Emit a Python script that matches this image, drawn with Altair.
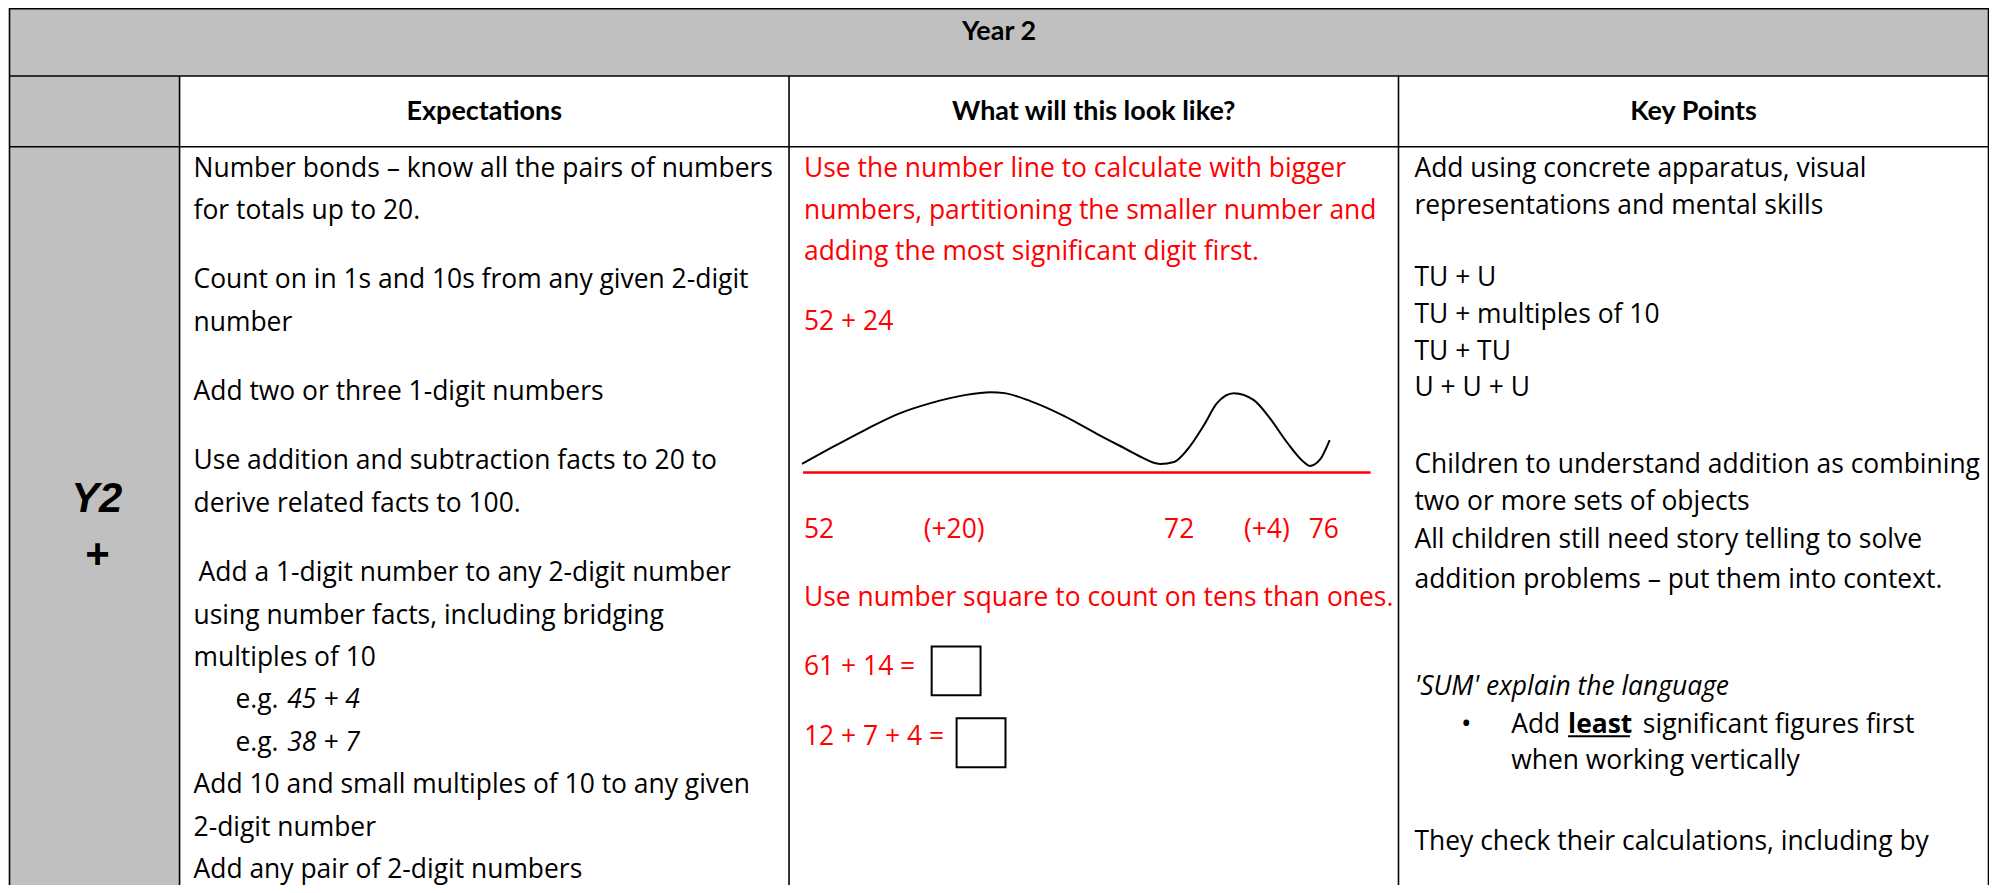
import altair as alt
import pandas as pd

# ------------------------------------------------------------------ content
TITLE = "Year 2"
COLUMN_HEADERS = ["Expectations", "What will this look like?", "Key Points"]
ROW_LABEL = ["Y2", "+"]

EXPECTATIONS = [
    "Number bonds \u2013 know all the pairs of numbers",
    "for totals up to 20.",
    "Count on in 1s and 10s from any given 2-digit",
    "number",
    "Add two or three 1-digit numbers",
    "Use addition and subtraction facts to 20 to",
    "derive related facts to 100.",
    "Add a 1-digit number to any 2-digit number",
    "using number facts, including bridging",
    "multiples of 10",
    "Add 10 and small multiples of 10 to any given",
    "2-digit number",
    "Add any pair of 2-digit numbers",
]
EXAMPLE_PREFIX = ["e.g.", "e.g."]
EXAMPLES = ["45 + 4", "38 + 7"]

LOOK_LIKE = [
    "Use the number line to calculate with bigger",
    "numbers, partitioning the smaller number and",
    "adding the most significant digit first.",
    "52 + 24",
    "Use number square to count on tens than ones.",
    "61 + 14 =",
    "12 + 7 + 4 =",
]
NUMBER_LINE_LABELS = ["52", "(+20)", "72", "(+4)", "76"]

# hand-drawn jump curve above the number line
CURVE_X = [804, 833, 867, 900, 933, 967, 993, 1007, 1033, 1067, 1100, 1123, 1140,
           1163, 1177, 1190, 1207, 1220, 1237, 1257, 1273, 1290, 1307, 1313, 1323, 1333]
CURVE_Y = [464, 448, 430, 414, 403, 395, 392, 393, 401, 416, 434, 446, 455,
           464, 462, 450, 425, 403, 393, 400, 418, 442, 462, 466, 460, 440]

KEY_POINTS = [
    "Add using concrete apparatus, visual",
    "representations and mental skills",
    "TU + U",
    "TU + multiples of 10",
    "TU + TU",
    "U + U + U",
    "Children to understand addition as combining",
    "two or more sets of objects",
    "All children still need story telling to solve",
    "addition problems \u2013 put them into context.",
    "when working vertically",
    "They check their calculations, including by",
]
KEY_ITALIC = "'SUM' explain the language"
BULLET_PARTS = ["Add", "least", "significant figures first"]

# ------------------------------------------------------------------ layout (page units)
PAGE_W, PAGE_H = 1986, 877          # drawing area, starts at page (8, 8)
X0, Y0 = 8, 8
COL_X = [9.5, 180, 791, 1402, 1993.5]
ROW_Y = [7.5, 75, 146, 893]
GRAY = "#c0c0c0"
RED = "#ff0000"
BODY_FONT = "Open Sans"
BODY_SIZE = 26.5
HEAD_SIZE = 27

exp_y, y, step, gap = [], 168.0, 42.5, 27.0
para_start = {2, 4, 5, 7}
for i in range(15):
    if i in para_start:
        y += gap
    exp_y.append(y)
    y += step
# slots 10, 11 hold the e.g. lines
exp_text_slots = [0, 1, 2, 3, 4, 5, 6, 7, 8, 9, 12, 13, 14]
exp_x = [194] * 13
exp_x[7] = 199
eg_slots = [10, 11]

look_y = [168, 210, 252, 322, 598, 668, 738]
numline_x = [806, 926, 1167, 1247, 1312]
numline_y = 530
box_x = [(934, 983), (959, 1008)]
box_y = [(647, 696), (719, 768)]

key_y = [168, 205, 278, 315, 352, 388, 465, 502, 540, 580, 762, 843]
key_x = [1418] * 12
key_x[10] = 1515
bullet_y = 726
bullet_part_x = [1515, 1572, 1647]

XS = alt.Scale(domain=[X0, X0 + PAGE_W], nice=False, zero=False)
YS = alt.Scale(domain=[Y0, Y0 + PAGE_H], nice=False, zero=False, reverse=True)


def X(f="x"):
    return alt.X(f"{f}:Q", scale=XS, axis=None)


def Y(f="y"):
    return alt.Y(f"{f}:Q", scale=YS, axis=None)


# ------------------------------------------------------------------ shapes
gray_cells = pd.DataFrame([
    dict(x=COL_X[0], x2=COL_X[1], y=0, y2=ROW_Y[0]),
    dict(x=COL_X[0], x2=COL_X[4], y=ROW_Y[0], y2=ROW_Y[1]),
    dict(x=COL_X[0], x2=COL_X[1], y=ROW_Y[1], y2=ROW_Y[3]),
])
gray = alt.Chart(gray_cells).mark_rect(color=GRAY).encode(
    x=X(), x2="x2:Q", y=Y(), y2="y2:Q")

rules = []
for yy in ROW_Y[:3]:
    rules.append(dict(x=COL_X[0], x2=COL_X[4], y=yy, y2=yy))
for xx in (COL_X[0], COL_X[4]):
    rules.append(dict(x=xx, x2=xx, y=0, y2=ROW_Y[3]))
for xx in COL_X[1:4]:
    rules.append(dict(x=xx, x2=xx, y=0, y2=ROW_Y[0]))
    rules.append(dict(x=xx, x2=xx, y=ROW_Y[1], y2=ROW_Y[3]))
grid = alt.Chart(pd.DataFrame(rules)).mark_rule(color="black", strokeWidth=1.6).encode(
    x=X(), x2="x2:Q", y=Y(), y2="y2:Q")

boxes = pd.DataFrame([dict(x=a, x2=b, y=c, y2=d) for (a, b), (c, d) in zip(box_x, box_y)])
answer_boxes = alt.Chart(boxes).mark_rect(fill="white", stroke="black", strokeWidth=2).encode(
    x=X(), x2="x2:Q", y=Y(), y2="y2:Q")

red_line = alt.Chart(pd.DataFrame([dict(x=805, x2=1374, y=472.5, y2=472.5)])).mark_rule(
    color=RED, strokeWidth=2.6).encode(x=X(), x2="x2:Q", y=Y(), y2="y2:Q")

curve_df = pd.DataFrame({"x": CURVE_X, "y": CURVE_Y, "o": range(len(CURVE_X))})
curve = alt.Chart(curve_df).mark_line(color="black", strokeWidth=2,
                                      interpolate="monotone").encode(
    x=X(), y=Y(), order="o:Q")

underline = alt.Chart(pd.DataFrame([dict(x=1572, x2=1634, y=737, y2=737)])).mark_rule(
    color="black", strokeWidth=2).encode(x=X(), x2="x2:Q", y=Y(), y2="y2:Q")


# ------------------------------------------------------------------ text
def text_layer(rows, **mark):
    df = pd.DataFrame(rows, columns=["text", "x", "y"])
    base = dict(baseline="middle", align="left", font=BODY_FONT, fontSize=BODY_SIZE,
                color="black")
    base.update(mark)
    return alt.Chart(df).mark_text(**base).encode(x=X(), y=Y(), text="text:N")


hdr_rows = [(TITLE, (COL_X[0] + COL_X[4]) / 2, 31)]
for i, h in enumerate(COLUMN_HEADERS):
    hdr_rows.append((h, (COL_X[i + 1] + COL_X[i + 2]) / 2, 111))
headers = text_layer(hdr_rows, align="center", font="Lato", fontWeight="bold",
                     fontSize=HEAD_SIZE)

row_label = text_layer([(ROW_LABEL[0], 97, 499), (ROW_LABEL[1], 97, 555)],
                       align="center", font="Liberation Sans", fontWeight="bold",
                       fontStyle="italic", fontSize=42)

black_rows = [(t, exp_x[i], exp_y[s]) for i, (t, s) in enumerate(zip(EXPECTATIONS, exp_text_slots))]
black_rows += [(p, 236, exp_y[s]) for p, s in zip(EXAMPLE_PREFIX, eg_slots)]
black_rows += [(t, key_x[i], key_y[i]) for i, t in enumerate(KEY_POINTS)]
black_rows += [(BULLET_PARTS[0], bullet_part_x[0], bullet_y),
               (BULLET_PARTS[2], bullet_part_x[2], bullet_y)]
black_text = text_layer(black_rows)

bullet = text_layer([("\u2022", 1470, bullet_y)], align="center", fontSize=28)
italic_text = text_layer([(e, 288, exp_y[s]) for e, s in zip(EXAMPLES, eg_slots)]
                         + [(KEY_ITALIC, 1418, 688)], fontStyle="italic")
bold_text = text_layer([(BULLET_PARTS[1], bullet_part_x[1], bullet_y)], fontWeight="bold")

red_rows = [(t, 806, yy) for t, yy in zip(LOOK_LIKE, look_y)]
red_rows += [(t, xx, numline_y) for t, xx in zip(NUMBER_LINE_LABELS, numline_x)]
red_text = text_layer(red_rows, color=RED)

chart = alt.layer(
    gray, answer_boxes, red_line, curve, grid, underline,
    headers, row_label, black_text, bullet, italic_text, bold_text, red_text,
).properties(
    width=PAGE_W, height=PAGE_H, padding=0, autosize="none", background="white",
).configure_view(stroke=None)

chart.save("out.html", embed_options={"renderer": "svg", "actions": False})
